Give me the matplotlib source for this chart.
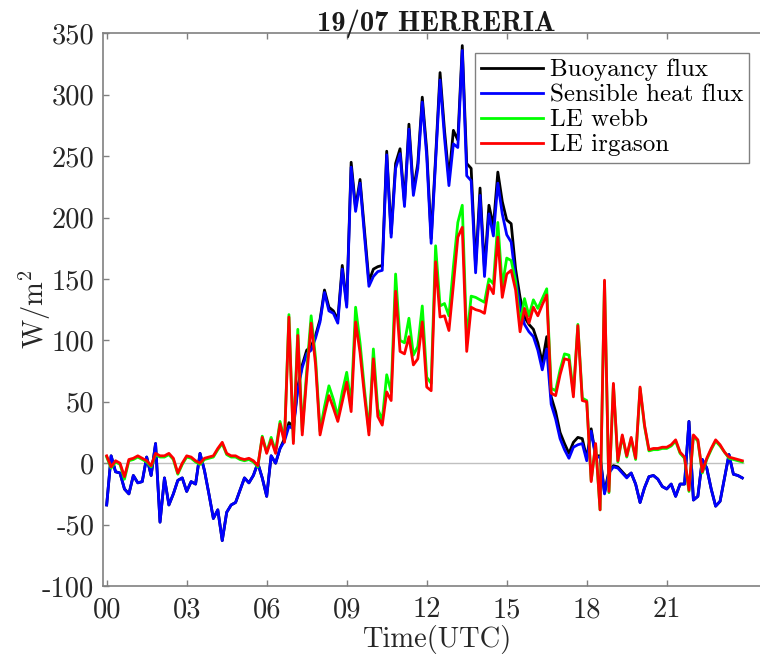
"""
19/07 HERRERIA -- surface energy fluxes over one day (10-min averages).
Buoyancy / sensible heat flux and latent heat (Webb-corrected vs IRGASON).
"""
import numpy as np
import matplotlib
matplotlib.use("Agg")
import matplotlib.pyplot as plt

plt.rcParams["font.family"] = ["cmr10", "DejaVu Serif"]
plt.rcParams["mathtext.fontset"] = "cm"
plt.rcParams["axes.unicode_minus"] = False
plt.rcParams["axes.formatter.use_mathtext"] = False

# time stamps, hours UTC (10-min records)
hours = np.arange(0, 1440, 10) / 60.0

sensible = [
    -34, 6, -7, -8, -21, -25, -10, -16, -15, 5, -10, 16,
    -48, -12, -34, -25, -14, -12, -23, -15, -17, 8, -6, -25,
    -45, -38, -63, -40, -34, -32, -22, -12, -16, -10, 0, -12,
    -27, 6, 0, 12, 18, 30, 28, 60, 78, 89, 92, 102,
    115, 139, 124, 122, 114, 158, 127, 241, 205, 228, 185, 144,
    152, 156, 157, 251, 184, 240, 252, 209, 272, 218, 240, 294,
    250, 179, 245, 312, 265, 226, 260, 257, 336, 234, 230, 155,
    218, 152, 203, 185, 228, 203, 186, 180, 150, 128, 113, 107,
    103, 92, 76, 93, 48, 36, 20, 11, 4, 13, 15, 16,
    2, 26, 5, 5, -25, -8, -3, -4, -8, -12, -8, -17,
    -32, -20, -11, -10, -13, -19, -21, -17, -27, -17, -17, 34,
    -30, -27, 3, -4, -21, -35, -31, -12, 7, -9, -10, -12,
]

buoyancy = [
    -34, 6, -7, -8, -21, -25, -10, -16, -15, 5, -10, 16,
    -48, -12, -34, -25, -14, -12, -23, -15, -17, 8, -6, -25,
    -45, -38, -63, -40, -34, -32, -22, -12, -16, -10, 0, -12,
    -27, 6, 0, 12, 20, 33, 30, 62, 80, 92, 95, 104,
    117, 141, 127, 124, 117, 161, 129, 245, 208, 231, 189, 148,
    158, 160, 161, 254, 187, 244, 256, 212, 276, 222, 244, 298,
    255, 183, 249, 318, 271, 232, 271, 263, 340, 244, 240, 160,
    224, 158, 210, 193, 237, 213, 198, 195, 158, 135, 119, 113,
    109, 98, 82, 103, 54, 42, 25, 16, 8, 17, 21, 20,
    4, 28, 6, 6, -24, -6, -2, -3, -7, -11, -8, -17,
    -32, -20, -11, -10, -13, -19, -21, -17, -27, -17, -17, 34,
    -30, -27, 3, -4, -21, -35, -31, -12, 7, -9, -10, -12,
]

le_irgason = [
    6, -3, 2, 0, -11, 3, 4, 6, 4, 2, -2, 8,
    6, 6, 8, 4, -8, 0, 6, 5, 2, 0, 4, 5,
    6, 12, 17, 8, 6, 6, 4, 3, 4, 2, -2, 21,
    8, 19, 8, 32, 17, 119, 16, 104, 23, 70, 114, 80,
    23, 40, 55, 45, 34, 50, 66, 42, 115, 90, 55, 23,
    85, 38, 31, 58, 51, 140, 91, 89, 103, 80, 85, 115,
    62, 59, 164, 119, 120, 108, 145, 184, 192, 91, 127, 125,
    124, 122, 145, 138, 184, 135, 154, 157, 141, 107, 126, 114,
    127, 120, 129, 137, 57, 55, 72, 85, 84, 54, 112, 51,
    50, -15, 16, -38, 149, -23, 65, 2, 23, 6, 21, 4,
    62, 31, 11, 12, 12, 13, 13, 15, 19, 9, 5, -22,
    23, 19, -7, 4, 12, 19, 15, 9, 5, 4, 3, 2,
]

le_webb = [
    5, -4, 1, -1, -13, 2, 3, 5, 3, 1, -3, 7,
    5, 5, 7, 3, -9, -1, 5, 4, 1, -1, 3, 4,
    5, 11, 16, 7, 5, 5, 3, 2, 3, 1, -3, 22,
    9, 21, 10, 34, 19, 121, 18, 109, 26, 75, 120, 85,
    26, 46, 63, 52, 38, 58, 74, 48, 127, 98, 60, 26,
    93, 44, 35, 72, 58, 154, 100, 98, 118, 88, 95, 128,
    70, 65, 177, 128, 130, 120, 160, 196, 210, 100, 136, 135,
    133, 131, 150, 146, 196, 144, 167, 165, 148, 113, 134, 120,
    133, 126, 134, 142, 61, 59, 76, 89, 88, 57, 113, 53,
    51, -14, 15, -38, 148, -24, 64, 1, 22, 5, 20, 3,
    61, 30, 10, 11, 11, 12, 12, 14, 18, 8, 4, -23,
    22, 18, -8, 3, 11, 18, 14, 9, 4, 3, 2, 1,
]

tick_hours = [0, 3, 6, 9, 12, 15, 18, 21]
tick_labels = ["00", "03", "06", "09", "12", "15", "18", "21"]

fig = plt.figure(figsize=(7.6, 6.58), dpi=100)
# right edge of the box lies outside the saved picture, as in the original
ax = fig.add_axes([0.1351, 0.1094, 0.878, 0.840])

ax.hlines(0, -0.15, 23.9, color="#c0c0c0", lw=1.0, zorder=1)
ax.plot(hours, buoyancy, color="k", lw=2.0, label="Buoyancy flux", zorder=2)
ax.plot(hours, sensible, color="#0000ff", lw=2.0, label="Sensible heat flux", zorder=3)
ax.plot(hours, le_webb, color="#00ff00", lw=2.0, label="LE webb", zorder=4)
ax.plot(hours, le_irgason, color="#ff0000", lw=2.0, label="LE irgason", zorder=5)

ax.set_xlim(-0.15, 24.87)
ax.set_ylim(-100, 350)
ax.set_xticks(tick_hours)
ax.set_xticklabels(tick_labels)
ax.set_yticks(np.arange(-100, 351, 50))

for s in ax.spines.values():
    s.set_color("#808080")
    s.set_linewidth(1.2)
ax.tick_params(direction="in", length=4, width=1.0, color="#808080",
               labelsize=20.5, labelcolor="#262626", top=True, right=True)
ax.tick_params(axis="x", pad=8)
ax.tick_params(axis="y", pad=6)

ax.set_xlabel("Time(UTC)", fontsize=20.5, color="#262626", labelpad=1)
ax.set_ylabel(r"W/m$^2$", fontsize=20.5, color="#262626", labelpad=-7.5)
ax.set_title("19/07 HERRERIA", fontsize=20.5, family="cmb10", color="#1a1a1a", pad=2)

leg = ax.legend(loc="upper right", bbox_to_anchor=(0.969, 0.965), borderaxespad=0,
                fontsize=18, fancybox=False, framealpha=1, edgecolor="#808080",
                handlelength=2.5, handletextpad=0.25, labelspacing=0.1,
                borderpad=0.25)
leg.get_frame().set_linewidth(1.0)

fig.savefig("out.png", dpi=100)
